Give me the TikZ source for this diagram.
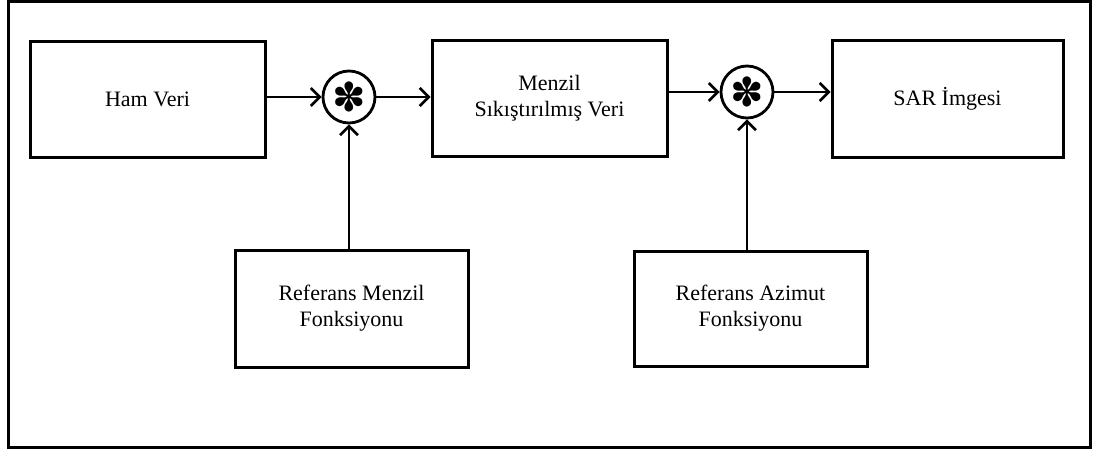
\documentclass[tikz,border=0pt]{standalone}
\usepackage{fontspec}
\setmainfont{Liberation Serif}
\newfontfamily\symfont{DejaVu Sans}
\usetikzlibrary{arrows.meta}
\begin{document}
\begin{tikzpicture}[x=1pt,y=-1pt,
  blk/.style={draw,line width=3pt,rectangle,align=center,inner sep=0pt,
    font=\fontsize{22}{26}\selectfont},
  conv/.style={draw,line width=2.8pt,circle,minimum size=52pt,inner sep=0pt,
    font=\symfont\fontsize{40}{40}\selectfont},
  flow/.style={line width=2.6pt,-{Straight Barb[length=9pt,width=18pt,line width=2.6pt]}}]
\useasboundingbox (0,0) rectangle (1093,452);
\draw[line width=3pt] (8,1.5) rectangle (1090,447.5);
\node[blk,minimum width=235pt,minimum height=115pt] (ham) at (147.5,99.5) {Ham Veri};
\node[blk,minimum width=235pt,minimum height=115pt] (menzil) at (549.5,98.5) {Menzil\\Sıkıştırılmış Veri};
\node[blk,minimum width=231pt,minimum height=116pt] (sar) at (947.5,99) {SAR İmgesi};
\node[blk,minimum width=233pt,minimum height=117pt] (refm) at (351.5,308.5) {Referans Menzil\\Fonksiyonu};
\node[blk,minimum width=233pt,minimum height=115pt] (refa) at (750.5,308.5) {Referans Azimut\\Fonksiyonu};
\node[conv] (c1) at (349,97) {✽};
\node[conv] (c2) at (747,92) {✽};
\draw[flow] (c1.west -| ham.east) -- (c1.west);
\draw[flow] (c1.east) -- (c1.east -| menzil.west);
\draw[flow] (c2.west -| menzil.east) -- (c2.west);
\draw[flow] (c2.east) -- (c2.east -| sar.west);
\draw[flow] (c1.south |- refm.north) -- (c1.south);
\draw[flow] (c2.south |- refa.north) -- (c2.south);
\end{tikzpicture}
\end{document}
